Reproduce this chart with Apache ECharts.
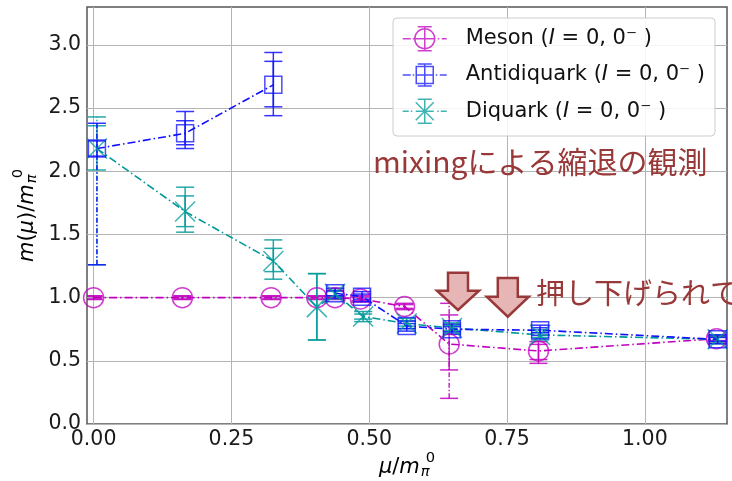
<!DOCTYPE html>
<html>
<head>
<meta charset="utf-8">
<script src="https://cdn.jsdelivr.net/npm/echarts@6/dist/echarts.min.js"></script>
<style>
  html, body { margin: 0; padding: 0; background: #fff; }
  #chart { width: 732px; height: 481px; }
</style>
</head>
<body>
<div id="chart"></div>
<script>
// ---- data: chemical potential mu/m_pi0 and masses m(mu)/m_pi0 ----
const mesonMu       = [0.000, 0.161, 0.322, 0.405, 0.438, 0.484, 0.564, 0.645, 0.807, 1.130];
const mesonMass     = [1.000, 1.000, 1.000, 1.000, 1.000, 0.990, 0.930, 0.633, 0.578, 0.675];
const mesonLow      = [0.985, 0.985, 0.985, 0.985, 0.985, 0.965, 0.905, 0.203, 0.480, 0.650];
const mesonHigh     = [1.015, 1.015, 1.015, 1.015, 1.015, 1.015, 0.955, 0.955, 0.652, 0.700];
const mesonLowIn    = [0.990, 0.990, 0.990, 0.990, 0.990, 0.975, 0.915, 0.428, 0.510, 0.660];
const mesonHighIn   = [1.010, 1.010, 1.010, 1.010, 1.010, 1.005, 0.945, 0.863, 0.630, 0.690];

const antiMu        = [0.006, 0.166, 0.326, 0.438, 0.487, 0.568, 0.650, 0.810, 1.132];
const antiMass      = [2.180, 2.300, 2.684, 1.035, 1.008, 0.775, 0.750, 0.742, 0.670];
const antiLow       = [1.260, 2.180, 2.440, 0.995, 0.968, 0.735, 0.710, 0.702, 0.635];
const antiHigh      = [2.380, 2.473, 2.940, 1.075, 1.048, 0.815, 0.790, 0.782, 0.705];
const antiLowIn     = [2.120, 2.210, 2.510, 1.015, 0.988, 0.755, 0.730, 0.722, 0.655];
const antiHighIn    = [2.240, 2.400, 2.870, 1.055, 1.028, 0.795, 0.770, 0.762, 0.685];
// the antidiquark curve is drawn as two branches; the second starts at this index
const antiBranchStart = 3;

const diqMu         = [0.006, 0.166, 0.326, 0.405, 0.438, 0.489, 0.568, 0.650, 0.810, 1.132];
const diqMass       = [2.180, 1.681, 1.290, 0.925, 1.030, 0.850, 0.795, 0.760, 0.705, 0.670];
const diqLow        = [1.260, 1.518, 1.146, 0.665, 0.990, 0.810, 0.755, 0.720, 0.665, 0.635];
const diqHigh       = [2.430, 1.874, 1.457, 1.190, 1.070, 0.890, 0.835, 0.800, 0.745, 0.705];
const diqLowIn      = [2.010, 1.562, 1.206, 0.665, 1.010, 0.830, 0.775, 0.740, 0.685, 0.650];
const diqHighIn     = [2.360, 1.805, 1.390, 1.190, 1.050, 0.870, 0.815, 0.780, 0.725, 0.690];

const seriesNames   = ['Meson', 'Antidiquark', 'Diquark'];
const xTicks        = [0.00, 0.25, 0.50, 0.75, 1.00];
const yTicks        = [0.0, 0.5, 1.0, 1.5, 2.0, 2.5, 3.0];
const noteMixing    = 'mixingによる縮退の観測';
const notePushed    = '押し下げられて';

// ---- styling ----
const C_MESON = '#bf00bf';
const C_ANTI  = '#1010ff';
const C_DIQ   = '#009999';
const DASHDOT = [8, 3, 1.5, 3];
const MATH_FONT = 'DejaVu Sans';
const NOTE_COLOR = '#993838';

const chart = echarts.init(document.getElementById('chart'), null, { renderer: 'canvas' });

const zip = (xs, ys) => xs.map((x, i) => [x, ys[i]]);
const zip3 = (xs, lo, hi) => xs.map((x, i) => [x, lo[i], hi[i]]);

function lineSeries(name, xs, ys, color, symbol, size, breakAt) {
  const data = zip(xs, ys);
  if (breakAt) data.splice(breakAt, 0, [xs[breakAt - 1], '-']);
  return {
    type: 'line',
    name: name,
    data: data,
    connectNulls: false,
    symbol: symbol,
    symbolSize: size,
    showAllSymbol: true,
    lineStyle: { color: color, width: 1.6, type: DASHDOT },
    itemStyle: { color: 'transparent', borderColor: color, borderWidth: 1.5, opacity: 0.75 },
    emphasis: { disabled: true },
    animation: false,
    clip: true
  };
}

// vertical error bars with caps, one item per [mu, low, high]
function errorSeries(name, data, color) {
  return {
    type: 'custom',
    name: name,
    data: data,
    encode: { x: 0, y: [1, 2] },
    silent: true,
    animation: false,
    clip: true,
    renderItem: function (params, api) {
      const x = api.value(0);
      const a = api.coord([x, api.value(1)]);
      const b = api.coord([x, api.value(2)]);
      const half = 9;
      const long = Math.abs(a[1] - b[1]) > 80;
      const capStyle = { stroke: color, lineWidth: 1.5, opacity: 0.85 };
      return {
        type: 'group',
        children: [
          { type: 'line', shape: { x1: a[0], y1: a[1], x2: b[0], y2: b[1] },
            style: { stroke: color, lineWidth: 1.5, opacity: 0.85, lineDash: long ? [5, 2, 1.5, 2] : null } },
          { type: 'line', shape: { x1: a[0] - half, y1: a[1], x2: a[0] + half, y2: a[1] }, style: capStyle },
          { type: 'line', shape: { x1: b[0] - half, y1: b[1], x2: b[0] + half, y2: b[1] }, style: capStyle }
        ]
      };
    }
  };
}

// ---- axis titles with stacked sub/superscripts ----
const measureCtx = document.createElement('canvas').getContext('2d');
function textWidth(style, size, text) {
  measureCtx.font = `${style} ${size}px '${MATH_FONT}'`;
  return measureCtx.measureText(text).width;
}
function mathTitle(parts, sub, sup, fs) {
  const children = [];
  let x = 0;
  const mid = 0.346;
  parts.forEach(([t, italic]) => {
    const st = italic ? 'italic' : 'normal';
    children.push({
      type: 'text',
      style: { text: t, x: x, y: -mid * fs, fontSize: fs, fontFamily: MATH_FONT, fontStyle: st,
               fill: '#000', align: 'left', verticalAlign: 'middle' }
    });
    x += textWidth(st, fs, t);
  });
  const ss = fs * 0.7;
  children.push({
    type: 'text',
    style: { text: sub, x: x + 1, y: 2 - mid * ss, fontSize: ss, fontFamily: MATH_FONT, fontStyle: 'italic',
             fill: '#000', align: 'left', verticalAlign: 'middle' }
  });
  children.push({
    type: 'text',
    style: { text: sup, x: x + 6, y: -11.5 - mid * ss, fontSize: ss, fontFamily: MATH_FONT, fontStyle: 'normal',
             fill: '#000', align: 'left', verticalAlign: 'middle' }
  });
  const width = x + 6 + Math.max(textWidth('italic', ss, sub) - 5, textWidth('normal', ss, sup));
  return { children, width };
}

const PLOT = { left: 87, right: 727, top: 7, bottom: 424 };
const xTitle = mathTitle([['μ', true], ['/', false], ['m', true]], 'π', '0', 21);
const yTitle = mathTitle([['m', true], ['(', false], ['μ', true], [')/', false], ['m', true]], 'π', '0', 21);

function arrow(cx, top, headTop, tip) {
  const sw = 10, hw = 21;
  return {
    type: 'polygon',
    z: 100,
    shape: { points: [[cx - sw, top], [cx + sw, top], [cx + sw, headTop], [cx + hw, headTop],
                      [cx, tip], [cx - hw, headTop], [cx - sw, headTop]] },
    style: { fill: '#e6b6b6', stroke: NOTE_COLOR, lineWidth: 2.5, lineJoin: 'miter' }
  };
}

const legendRich = {
  gap: { width: 14, fontSize: 21, fontFamily: MATH_FONT },
  it: { fontStyle: 'italic', fontSize: 21, fontFamily: MATH_FONT, color: '#111' }
};

const option = {
  backgroundColor: '#fff',
  animation: false,
  grid: {
    show: true, left: PLOT.left, right: 732 - PLOT.right, top: PLOT.top, bottom: 481 - PLOT.bottom,
    borderColor: '#555', borderWidth: 1.5, backgroundColor: 'transparent',
    containLabel: false, outerBoundsMode: 'none'
  },
  xAxis: {
    type: 'value', min: -0.012, max: 1.149,
    axisLine: { show: false },
    axisTick: { show: false, customValues: xTicks },
    axisLabel: { customValues: xTicks, formatter: v => v.toFixed(2), margin: 5,
                 fontFamily: MATH_FONT, fontSize: 20.5, color: '#1a1a1a' },
    splitLine: { show: true, lineStyle: { color: '#b4b4b4', width: 1 } }
  },
  yAxis: {
    type: 'value', min: 0, max: 3.3,
    axisLine: { show: false },
    axisTick: { show: false, customValues: yTicks },
    axisLabel: { customValues: yTicks, formatter: v => v.toFixed(1), margin: 6,
                 fontFamily: MATH_FONT, fontSize: 20.5, color: '#1a1a1a' },
    splitLine: { show: true, lineStyle: { color: '#b4b4b4', width: 1 } }
  },
  legend: {
    orient: 'vertical', left: 393, top: 18,
    padding: [8, 10, 12, 9],
    itemWidth: 44, itemHeight: 24, itemGap: 11.5,
    backgroundColor: 'rgba(255,255,255,0.85)', borderColor: '#cccccc', borderWidth: 1, borderRadius: 4,
    selectedMode: false,
    textStyle: { fontFamily: MATH_FONT, fontSize: 21, color: '#111', lineHeight: 24, rich: legendRich },
    formatter: name => `{gap| }${name} ({it|I} = 0, 0⁻ )`,
    data: [
      { name: seriesNames[0],
        icon: 'path://M0,12H8M10,12H11.5M12,12H32M35,12H36.5M39,12H44M22,0V24M15,0H29M15,24H29M32,12A10,10,0,1,1,12,12A10,10,0,1,1,32,12',
        itemStyle: { color: 'transparent', borderColor: C_MESON, borderWidth: 1.5 } },
      { name: seriesNames[1],
        icon: 'path://M0,12H8M10,12H11.5M13.5,12H30.5M33,12H34.5M37,12H44M22,1V23M15,1H29M15,23H29M13.5,3.5H30.5V20.5H13.5Z',
        itemStyle: { color: 'transparent', borderColor: C_ANTI, borderWidth: 1.5 } },
      { name: seriesNames[2],
        icon: 'path://M0,12H6M8,12H9.5M13,3L31,21M31,3L13,21M13,12H31M34.5,12H36M38,12H44M22,0V24M15,0H29M15,24H29',
        itemStyle: { color: 'transparent', borderColor: C_DIQ, borderWidth: 1.5 } }
    ]
  },
  series: [
    lineSeries(seriesNames[0], mesonMu, mesonMass, C_MESON, 'circle', 20),
    errorSeries('meson-err', zip3(mesonMu, mesonLow, mesonHigh), C_MESON),
    errorSeries('meson-err-in', zip3(mesonMu, mesonLowIn, mesonHighIn), C_MESON),
    lineSeries(seriesNames[2], diqMu, diqMass, C_DIQ, 'path://M0,0L20,20M20,0L0,20', 20),
    errorSeries('diq-err', zip3(diqMu, diqLow, diqHigh), C_DIQ),
    errorSeries('diq-err-in', zip3(diqMu, diqLowIn, diqHighIn), C_DIQ),
    lineSeries(seriesNames[1], antiMu, antiMass, C_ANTI, 'rect', 17, antiBranchStart),
    errorSeries('anti-err', zip3(antiMu, antiLow, antiHigh), C_ANTI),
    errorSeries('anti-err-in', zip3(antiMu, antiLowIn, antiHighIn), C_ANTI)
  ],
  graphic: [
    { type: 'group', x: (PLOT.left + PLOT.right) / 2 - xTitle.width / 2, y: 475, children: xTitle.children },
    { type: 'group', x: 35, y: (PLOT.top + PLOT.bottom) / 2 + yTitle.width / 2, rotation: Math.PI / 2,
      children: yTitle.children },
    { type: 'text', z: 100,
      style: { text: noteMixing, x: 373, y: 162, fontSize: 30, fontFamily: 'Noto Sans CJK JP',
               fill: NOTE_COLOR, align: 'left', verticalAlign: 'middle' } },
    arrow(458, 272.7, 290.7, 310),
    arrow(507.8, 278, 296.7, 316.7),
    { type: 'text', z: 100,
      style: { text: notePushed, x: 536, y: 293, fontSize: 29, fontFamily: 'Noto Sans CJK JP',
               fill: NOTE_COLOR, align: 'left', verticalAlign: 'middle' } }
  ]
};

chart.setOption(option);
</script>
</body>
</html>
